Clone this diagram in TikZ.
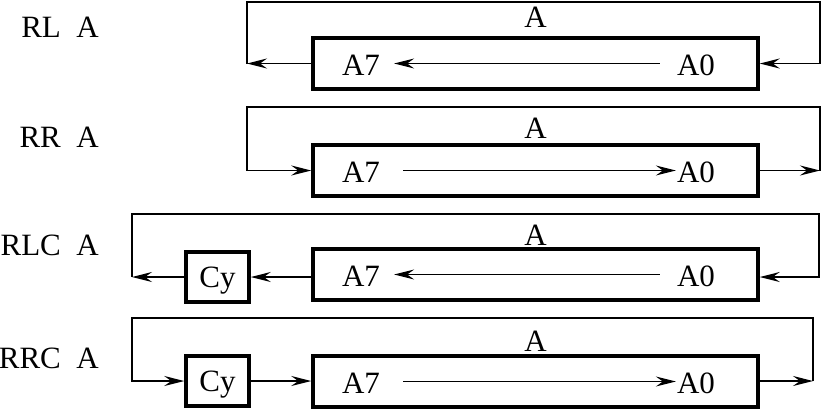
\documentclass[tikz,border=0pt]{standalone}
\usepackage{fontspec}
\setmainfont{Liberation Serif}
\usetikzlibrary{arrows.meta}
\begin{document}
\begin{tikzpicture}[x=1pt,y=-1pt,
  txt/.style={inner sep=0pt,font=\fontsize{31}{36}\selectfont},
  reg/.style={draw,line width=3.5pt,minimum width=445pt,minimum height=51pt,inner sep=0pt},
  cybox/.style={draw,line width=3.5pt,minimum width=63pt,minimum height=50pt,inner sep=0pt,text depth=0pt,font=\fontsize{31}{36}\selectfont},
  wire/.style={line width=1.4pt},
  arr/.style={wire,-{Stealth[length=20pt,width=10pt,inset=7pt]}}]
\useasboundingbox (0,0) rectangle (821,408);

% ---------- RL A ----------
\node[txt,anchor=base east] (l1) at (99,37) {RL\ \ A};
\node[reg] (b1) at (535.5,63.5) {};
\node[txt,anchor=base] (t1) at (535.5,27) {A};
\node[txt] (a71) at (361,65) {A7};
\node[txt] (a01) at (696,65) {A0};
\coordinate (l1c) at (247,63.5);
\coordinate (r1c) at (820,63.5);
\draw[arr,shorten <=17pt,shorten >=14pt] (a01.west |- b1.center) -- (a71.east |- b1.center);
\draw[arr] (b1.west) -- (l1c);
\draw[arr] (l1c) |- (535.5,2) -| (r1c) -- (b1.east);

% ---------- RR A ----------
\node[txt,anchor=base east] (l2) at (99,147) {RR\ \ A};
\node[reg] (b2) at (535.5,170.5) {};
\node[txt,anchor=base] (t2) at (535.5,138) {A};
\node[txt] (a72) at (361,172) {A7};
\node[txt] (a02) at (696,172) {A0};
\coordinate (l2c) at (247,170.5);
\coordinate (r2c) at (820,170.5);
\draw[arr,shorten <=23pt,shorten >=1pt] (a72.east |- b2.center) -- (a02.west |- b2.center);
\draw[arr] (b2.east) -- (r2c);
\draw[arr] (r2c) |- (535.5,107) -| (l2c) -- (b2.west);

% ---------- RLC A ----------
\node[txt,anchor=base east] (l3) at (99,255) {RLC\ \ A};
\node[reg] (b3) at (535.5,274.5) {};
\node[cybox] (c3) at (217.5,277) {Cy};
\node[txt,anchor=base] (t3) at (535.5,245) {A};
\node[txt] (a73) at (361,276) {A7};
\node[txt] (a03) at (696,276) {A0};
\coordinate (l3c) at (132,277);
\coordinate (r3c) at (819,277);
\draw[arr,shorten <=17pt,shorten >=14pt] (a03.west |- b3.center) -- (a73.east |- b3.center);
\draw[arr] (b3.west |- c3.center) -- (c3.east);
\draw[arr] (c3.west) -- (l3c);
\draw[arr] (l3c) |- (535.5,214) -| (r3c) -- (b3.east |- c3.center);

% ---------- RRC A ----------
\node[txt,anchor=base east] (l4) at (99,368) {RRC\ \ A};
\node[reg] (b4) at (535.5,381.5) {};
\node[cybox] (c4) at (217.5,381) {Cy};
\node[txt,anchor=base] (t4) at (535.5,351) {A};
\node[txt] (a74) at (361,383) {A7};
\node[txt] (a04) at (696,383) {A0};
\coordinate (l4c) at (132,381);
\coordinate (r4c) at (813,381);
\draw[arr,shorten <=23pt,shorten >=1pt] (a74.east |- b4.center) -- (a04.west |- b4.center);
\draw[arr] (c4.east) -- (b4.west |- c4.center);
\draw[arr] (b4.east |- c4.center) -- (r4c);
\draw[arr] (r4c) |- (535.5,318) -| (l4c) -- (c4.west);
\end{tikzpicture}
\end{document}
